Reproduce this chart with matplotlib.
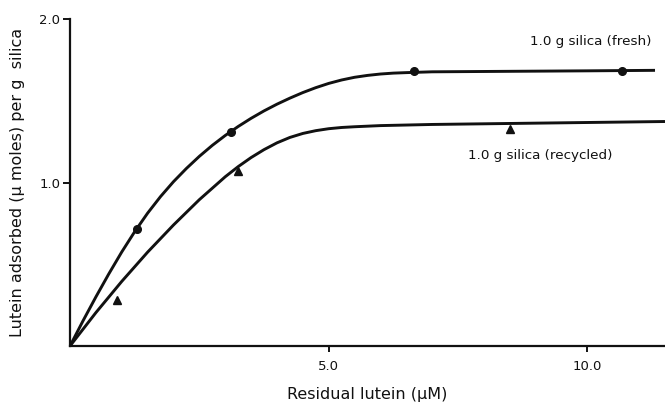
import matplotlib
matplotlib.use("Agg")
import matplotlib.pyplot as plt

# Fitted curve (fresh silica)
fresh_curve_x = [0.0, 0.25, 0.5, 0.75, 1.0, 1.25, 1.5, 1.75, 2.0, 2.25, 2.5, 2.75, 3.0, 3.25, 3.5,
                 3.75, 4.0, 4.25, 4.5, 4.75, 5.0, 5.25, 5.5, 5.75, 6.0, 6.25, 6.5, 7.0, 8.0, 9.0,
                 10.0, 11.307]
fresh_curve_y = [0.0, 0.153, 0.300, 0.441, 0.575, 0.699, 0.8125, 0.914, 1.005, 1.086, 1.160, 1.227,
                 1.2875, 1.3425, 1.3925, 1.438, 1.479, 1.516, 1.550, 1.580, 1.606, 1.627, 1.6435,
                 1.655, 1.6635, 1.669, 1.672, 1.677, 1.679, 1.681, 1.683, 1.686]

# Fitted curve (recycled silica)
rec_curve_x = [0.0, 0.5, 1.0, 1.5, 2.0, 2.5, 3.0, 3.25, 3.5, 3.75, 4.0, 4.25, 4.5, 4.75, 5.0, 5.25,
               5.5, 6.0, 7.0, 8.0, 9.0, 10.0, 11.5]
rec_curve_y = [0.0, 0.204, 0.395, 0.574, 0.740, 0.895, 1.035, 1.097, 1.1525, 1.201, 1.2425, 1.2756,
               1.300, 1.317, 1.329, 1.3365, 1.341, 1.348, 1.355, 1.359, 1.363, 1.367, 1.373]

# Measured points
fresh_x = [1.295, 3.112, 6.649, 10.669]
fresh_y = [0.716, 1.309, 1.680, 1.683]
rec_x = [0.908, 3.247, 8.504]
rec_y = [0.281, 1.068, 1.327]

xticks = [5.0, 10.0]
xtick_labels = ["5.0", "10.0"]
yticks = [1.0, 2.0]
ytick_labels = ["1.0", "2.0"]

fig = plt.figure(figsize=(6.65, 4.03), dpi=100)
ax = fig.add_axes([70 / 665, (403 - 346) / 403, 595 / 665, (346 - 19) / 403])

ink = "#111111"
ax.plot(fresh_curve_x, fresh_curve_y, color=ink, lw=2.1, solid_capstyle="butt",
        solid_joinstyle="round", zorder=3)
ax.plot(rec_curve_x, rec_curve_y, color=ink, lw=2.1, solid_capstyle="butt",
        solid_joinstyle="round", zorder=3)
ax.plot(fresh_x, fresh_y, "o", color=ink, ms=5.5, zorder=4, clip_on=False)
ax.plot(rec_x, rec_y, "^", color=ink, ms=5.5, zorder=2, clip_on=False)

ax.set_xlim(0, 11.5)
ax.set_ylim(0, 2.0)
ax.set_xticks(xticks)
ax.set_xticklabels(xtick_labels)
ax.set_yticks(yticks)
ax.set_yticklabels(ytick_labels)

for s in ["top", "right"]:
    ax.spines[s].set_visible(False)
for s in ["left", "bottom"]:
    ax.spines[s].set_linewidth(1.6)
    ax.spines[s].set_color(ink)

ax.tick_params(axis="x", direction="out", length=4, width=1.4, pad=6, labelsize=9.5, colors=ink)
ax.tick_params(axis="y", direction="out", length=5, width=1.4, pad=2, labelsize=9.5, colors=ink)

ax.set_xlabel("Residual lutein (\u00b5M)", fontsize=11.5, color=ink, labelpad=10)
ax.set_ylabel("Lutein adsorbed (\u00b5 moles) per g  silica", fontsize=11.5, color=ink, labelpad=10)

ax.text(8.89, 1.865, "1.0 g silica (fresh)", fontsize=9.7, color=ink, ha="left", va="center")
ax.text(7.69, 1.168, "1.0 g silica (recycled)", fontsize=9.7, color=ink, ha="left", va="center")

fig.savefig("out.png", dpi=100)
